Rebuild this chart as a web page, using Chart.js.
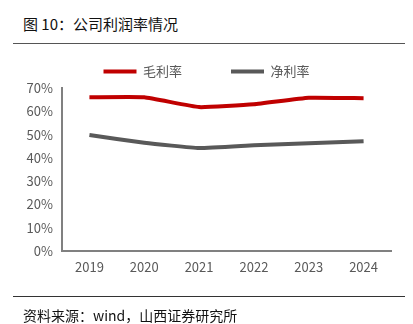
<!DOCTYPE html>
<html><head><meta charset="utf-8">
<script src="https://cdn.jsdelivr.net/npm/chart.js@4"></script>
<style>
html,body{margin:0;padding:0;background:#fff;}
#wrap{position:relative;width:413px;height:324px;overflow:hidden;}
#title{position:absolute;left:23px;top:13px;font:15px "Noto Sans CJK SC",sans-serif;color:#111;white-space:nowrap;}
#rule1{position:absolute;left:13px;top:43px;width:392px;height:1px;background:#555;}
#rule2{position:absolute;left:13px;top:296px;width:392px;height:1px;background:#333;}
#foot{position:absolute;left:23px;top:305px;font:14px "Noto Sans CJK SC",sans-serif;color:#111;white-space:nowrap;}
canvas{position:absolute;left:0;top:0;}
</style></head>
<body><div id="wrap">
<div id="title">图 10：公司利润率情况</div>
<div id="rule1"></div>
<canvas id="c" width="413" height="324"></canvas>
<div id="rule2"></div>
<div id="foot">资料来源：wind，山西证券研究所</div>
</div>
<script>
const categories = ['2019','2020','2021','2022','2023','2024'];
const grossMargin = [66.0, 66.0, 61.8, 63.0, 65.8, 65.6];
const netMargin = [49.8, 46.5, 44.2, 45.4, 46.3, 47.1];
const seriesNames = ['毛利率','净利率'];
const yTicks = [0,10,20,30,40,50,60,70];

const font = {family:'"Noto Sans CJK SC", "Noto Sans", sans-serif', size:13};
new Chart(document.getElementById('c'), {
  type:'line',
  data:{labels:categories, datasets:[
    {label:seriesNames[0], data:grossMargin, borderColor:'#C00000', backgroundColor:'#C00000', borderWidth:4, pointRadius:0, tension:0.12},
    {label:seriesNames[1], data:netMargin, borderColor:'#595959', backgroundColor:'#595959', borderWidth:4, pointRadius:0, tension:0.12}
  ]},
  options:{
    responsive:false, animation:false,
    layout:{padding:{top:16,right:0,bottom:0,left:0}},
    plugins:{
      legend:{position:'top', maxHeight:72,
        labels:{boxWidth:33, boxHeight:4, color:'#595959', font:font, padding:49,
          generateLabels:(chart)=>Chart.defaults.plugins.legend.labels.generateLabels(chart).map(l=>Object.assign(l,{lineWidth:0}))}},
      tooltip:{enabled:false}
    },
    scales:{
      x:{offset:true, grid:{display:false, drawTicks:false}, border:{color:'#808080', width:2},
        ticks:{color:'#595959', font:font, padding:8},
        afterFit:s=>{s.height=73; s.paddingRight=22;}},
      y:{min:0,max:70, grid:{display:false, drawTicks:false}, border:{color:'#808080', width:2},
        afterBuildTicks:s=>{s.ticks=yTicks.map(v=>({value:v}));},
        ticks:{color:'#595959', font:font, padding:9, callback:v=>v+'%'},
        afterFit:s=>{s.width=62;}}
    }
  }
});
</script>
</body></html>
